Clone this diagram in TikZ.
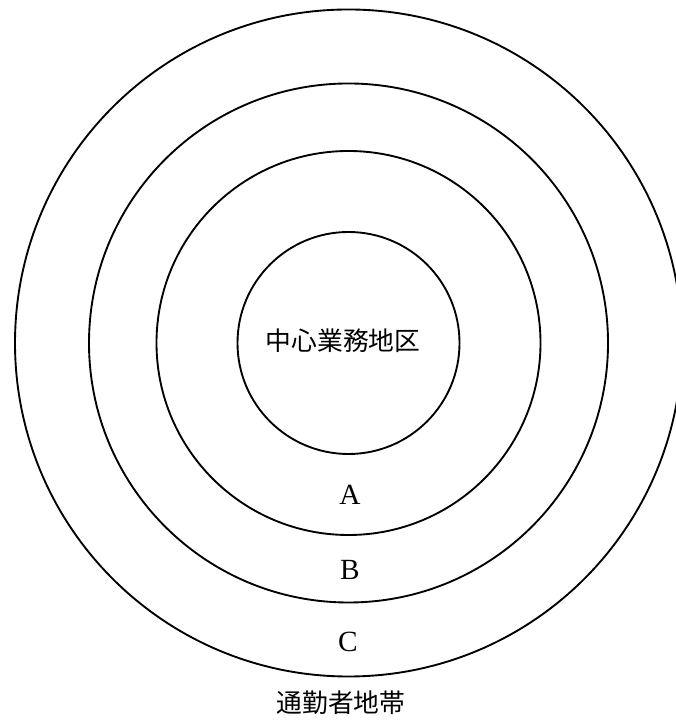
\documentclass[tikz,border=0pt]{standalone}
\usepackage{fontspec}
\setmainfont{Liberation Serif}
\newfontfamily\jpfont{Noto Sans CJK JP}
\usepackage{tikz}
\usetikzlibrary{positioning}

\begin{document}
\begin{tikzpicture}[
    ring/.style   = {draw, line width=1.6pt},
    zone/.style   = {font=\fontsize{25}{28}\selectfont, anchor=center},
    jplabel/.style = {font=\jpfont\fontsize{22}{26}\selectfont, anchor=center},
  ]
    \useasboundingbox (0,0) rectangle (20.25,21.69);
    \coordinate (ctr) at (10.455,11.40);

    % --- concentric zones ---
    \draw[ring] (ctr) circle (3.33);
    \draw[ring] (ctr) circle (5.76);
    \draw[ring] (ctr) circle (7.785);
    \draw[ring] (ctr) circle (10.005);

    % --- zone labels ---
    \node[jplabel] (cbd) at (10.29,11.46) {中心業務地区};
    \node[zone]    (za)  at (10.50,6.84)  {A};
    \node[zone]    (zb)  at (10.50,4.59)  {B};
    \node[zone]    (zc)  at (10.44,2.43)  {C};
    \node[jplabel] (com) at (10.23,0.60)  {通勤者地帯};
  \end{tikzpicture}
\end{document}
